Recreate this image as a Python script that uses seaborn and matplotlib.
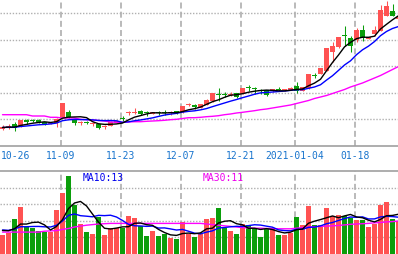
import numpy as np
import pandas as pd
import matplotlib
matplotlib.use("Agg")
import matplotlib.pyplot as plt
import seaborn as sns

sns.set_theme(style="white")
plt.rcParams['font.family'] = ['DejaVu Sans Mono', 'DejaVu Sans']
plt.rcParams['lines.scale_dashes'] = False

# ---------------- data (price scale is unlabelled on the chart) ----------------
open_ = [17, 19, 22.5, 20, 26, 26, 26, 23.7, 22.5, 23.5,
         28.7, 33.7, 26.3, 23, 24, 22, 22, 19.5, 20.3, 23,
         28, 33, 33, 35.3, 34, 32.3, 33.3, 34, 33, 34.7,
         33.7, 41, 41, 38, 41.3, 45.3, 52.3, 52.5, 51.5, 53,
         52, 59, 57.5, 56, 56, 54.7, 56.7, 56, 56.3, 59.7,
         55.3, 57.7, 70.7, 72, 75.3, 93.7, 98.7, 111.5, 107.7, 106.3,
         116.3, 107, 112, 115.3, 130.3, 135.3, 127]
close = [19.5, 20, 18.5, 26.3, 23.7, 25.3, 23.7, 22, 23, 27.5,
         43, 28.7, 23, 24, 23.2, 23, 18, 20, 24.3, 25,
         27.5, 33.7, 33.7, 32, 33.3, 33.7, 32.7, 33.3, 33.7, 32.7,
         39.7, 41.5, 39, 41.7, 46.3, 53, 51, 51.5, 52, 49,
         58, 58.3, 56.7, 55.5, 51, 56.7, 56, 56.5, 58.5, 55.3,
         58.7, 72, 70, 77.7, 97.7, 100.3, 109.3, 110.5, 100.3, 116.3,
         107.7, 108.7, 116, 136.3, 139.7, 130.3, 129]
high = [21, 22, 24.3, 26.5, 27, 27.3, 26.7, 24, 23.5, 28,
        43, 36, 27.5, 25.3, 25.3, 24.3, 22.5, 21.5, 24.7, 26.3,
        30.3, 35, 37.7, 36, 35.3, 34, 34.7, 36, 34.7, 35,
        40, 43, 42.5, 42, 47, 53, 58, 54, 54, 53,
        58, 61, 59, 57, 56.5, 57, 59, 57, 59, 63.7,
        59, 72, 73, 78, 98, 104, 109.5, 120.3, 110.3, 118.3,
        121, 109, 120.3, 141, 145.3, 142, 131]
low = [16, 17, 15, 19.5, 22, 24, 23, 21, 22, 19,
       28.5, 28, 21, 21, 21.7, 20, 17.5, 17.5, 20, 22.7,
       25.3, 31.5, 32, 31, 30.3, 32, 31.3, 31, 31.3, 32.3,
       33.3, 39.7, 37.5, 37.7, 41, 44, 45.3, 49, 50, 48.5,
       51.7, 55.3, 52, 52, 49.7, 54.5, 54.7, 55, 56, 53,
       55, 57.5, 68.3, 71.7, 75, 84, 98.5, 100.3, 94.3, 104.3,
       105.3, 106.7, 110.3, 115, 130, 130, 125]
volume = [6.2, 7.1, 11.8, 15.8, 9.0, 8.8, 7.7, 7.2, 7.4, 14.8,
          20.3, 26.0, 16.5, 10.0, 7.3, 6.8, 12.5, 6.3, 8.8, 8.8,
          8.8, 12.8, 12.0, 9.3, 6.0, 7.7, 6.0, 6.8, 5.4, 5.1,
          10.8, 6.8, 5.7, 6.8, 11.8, 12.0, 15.4, 8.6, 7.7, 6.8,
          10.1, 9.7, 8.6, 5.7, 8.2, 8.6, 6.3, 6.3, 7.0, 12.3,
          9.7, 16.0, 9.7, 9.7, 15.3, 12.7, 13.1, 12.7, 12.1, 11.2,
          11.3, 9.0, 9.9, 16.3, 17.3, 11.8, 11.0]
# closes / volumes of the sessions just before the window (off-screen, feed the MAs)
pre_close = [19.0, 18.5, 18.0, 18.5, 19.0, 18.0, 18.5, 18.0, 18.5]
pre_volume = [8.5, 7.5, 8.0, 9.0, 8.0, 7.5, 8.5, 8.0, 9.0]
# 30-day averages
ma30_price = [31.3]*5 + [30]*3 + [28.7]*2 + [28]*3 + [26.7, 26.3, 26, 25.5, 25] + \
             [24, 23.7, 23.7, 24, 24.3, 24.3] + [24.7, 25, 25.3, 25.7] + \
             [26.3, 26.7, 27.5, 28.3, 28.3, 28.7, 29.3, 29.7, 30.3, 31.3, 32, 33,
              33.7, 34.5, 35.3, 36.3, 37, 38, 39, 40, 41, 42.5, 44, 45.5,
              47.5, 49, 50.5, 52.5, 54.5, 56.5, 59, 61, 63, 65.5, 68, 70.5,
              73.5, 76.5, 79.5]
ma30_volume = [7.3]*7 + [7.6, 7.7, 7.8, 8.2, 8.5, 9.0, 9.3, 9.6, 9.8] + \
              [10.0, 10.1] + [10.2]*16 + [10.0, 9.8, 9.6, 9.4, 9.2] + \
              [9.0, 8.8, 8.7, 8.6, 8.6, 8.5, 8.5, 8.4, 8.4, 8.4] + \
              [8.6, 8.8, 9.0, 9.1, 9.2, 9.3, 9.4] + \
              [9.5, 9.7, 9.9, 10.0, 10.1, 10.2] + [10.4, 10.5, 10.7, 10.8, 11.0]
tick_idx = [0, 10, 20, 30, 40, 49, 59]
tick_labels = ["10-26", "11-09", "11-23", "12-07", "12-21", "2021-01-04", "01-18"]
ma10_label = "MA10:13"
ma30_label = "MA30:11"

# ---------------- frame ----------------
n = len(close)
dates = pd.bdate_range("2020-10-26", periods=n + 1, freq="C", holidays=["2021-01-01"])[:n]
df = pd.DataFrame({"date": dates, "open": open_, "close": close, "high": high,
                   "low": low, "volume": volume})
df["pos"] = np.arange(n) + 5 / 12
allc = pd.Series(pre_close + close)
allv = pd.Series(pre_volume + volume)
k = len(pre_close)
df["ma5"] = allc.rolling(5).mean().values[k:]
df["ma10"] = allc.rolling(10).mean().values[k:]
df["ma30"] = ma30_price
df["vma5"] = allv.rolling(5).mean().values[k:]
df["vma10"] = allv.rolling(10).mean().values[k:]
df["vma30"] = ma30_volume
RED, GREEN = "#ff5252", "#0b9e0b"
df["col"] = np.where(df["close"] >= df["open"], RED, GREEN)

W, H = 398, 255
fig = plt.figure(figsize=(W / 100, H / 100), dpi=100)
ax = fig.add_axes([0, 108 / H, 1, 147 / H])
axv = fig.add_axes([0, 0, 1, 83 / H])
xmax = W / 6

grid_h = dict(color="#b0b0b0", linestyle=(0, (1.0, 1.2)), linewidth=1.0)
grid_v = dict(color="#b4b4b4", linestyle=(0, (4.3, 2.3)), linewidth=1.3)

# main panel
ax.set_xlim(0, xmax)
ax.set_ylim(0, 147)
ax.set_yticks([26.6 * j for j in range(1, 6)])
ax.yaxis.grid(True, **grid_h)
ticks = [i + 0.1 for i in tick_idx]
ax.set_xticks(ticks)
ax.set_xticklabels(tick_labels)
ax.xaxis.grid(True, **grid_v)
ax.xaxis.get_gridlines()[0].set_visible(False)
ax.tick_params(axis="x", length=0, pad=3.2, labelsize=7, labelcolor="#1874cd")
ax.tick_params(axis="y", length=0, labelleft=False)
ax.get_xticklabels()[0].set_horizontalalignment("left")
for s in ["top", "left", "right"]:
    ax.spines[s].set_visible(False)
ax.spines["bottom"].set_color("#a0a0a0")
ax.spines["bottom"].set_linewidth(1.2)
ax.set_axisbelow(True)

ax.vlines(df["pos"], df["low"], df["high"], colors=df["col"], linewidth=0.75, zorder=2)
body_lo = np.minimum(df["open"], df["close"])
body_h = np.maximum(np.abs(df["close"] - df["open"]), 1.0)
ax.bar(df["pos"], body_h, bottom=body_lo, width=5 / 6, color=df["col"], linewidth=0, zorder=3)

sns.lineplot(data=df, x="pos", y="ma30", ax=ax, color="#ff00ff", linewidth=1.0, zorder=4)
sns.lineplot(data=df, x="pos", y="ma10", ax=ax, color="#0000ff", linewidth=1.0, zorder=5)
sns.lineplot(data=df, x="pos", y="ma5", ax=ax, color="black", linewidth=1.0, zorder=6)
ax.set_xlabel("")
ax.set_ylabel("")

# volume panel
vtop = 83 / 3
axv.set_xlim(0, xmax)
axv.set_ylim(0, vtop)
axv.set_yticks([vtop * j / 5 for j in range(1, 5)])
axv.yaxis.grid(True, **grid_h)
axv.set_xticks(ticks)
axv.xaxis.grid(True, **grid_v)
axv.xaxis.get_gridlines()[0].set_visible(False)
axv.tick_params(length=0, labelleft=False, labelbottom=False)
for s in ["bottom", "left", "right"]:
    axv.spines[s].set_visible(False)
axv.spines["top"].set_color("#a0a0a0")
axv.spines["top"].set_linewidth(1.2)
axv.set_axisbelow(True)
axv.bar(df["pos"], df["volume"], width=5 / 6, color=df["col"], linewidth=0, zorder=3)
sns.lineplot(data=df, x="pos", y="vma30", ax=axv, color="#ff00ff", linewidth=1.0, zorder=4)
sns.lineplot(data=df, x="pos", y="vma10", ax=axv, color="#0000ff", linewidth=1.0, zorder=5)
sns.lineplot(data=df, x="pos", y="vma5", ax=axv, color="black", linewidth=1.0, zorder=6)
axv.set_xlabel("")
axv.set_ylabel("")
axv.text(83 / W, 0.99, ma10_label, transform=axv.transAxes, ha="left", va="top",
         fontsize=7, color="#0000ee")
axv.text(203 / W, 0.99, ma30_label, transform=axv.transAxes, ha="left", va="top",
         fontsize=7, color="#ee00ee")

fig.savefig("out.png", dpi=100)
